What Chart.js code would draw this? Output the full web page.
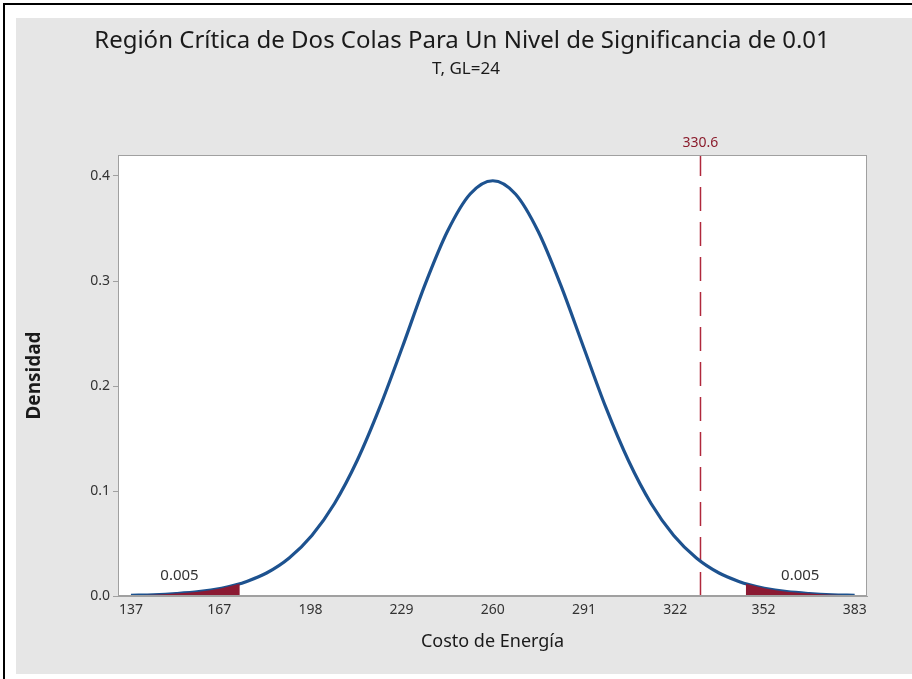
<!DOCTYPE html>
<html>
<head>
<meta charset="utf-8">
<script src="https://cdn.jsdelivr.net/npm/chart.js@4"></script>
<style>
  html, body { margin: 0; padding: 0; background: #fff; }
  #wrap { width: 912px; height: 679px; }
</style>
</head>
<body>
<div id="wrap"><canvas id="myChart" width="912" height="679"></canvas></div>
<script>
const ctx = document.getElementById("myChart");

// Costo de Energía (x) and density
const costo = [
  137.0, 144.7, 152.4, 160.1, 167.8, 174.0, 175.4, 183.1, 190.8, 198.5, 206.2,
  213.9, 221.6, 229.3, 236.9, 244.6, 252.3, 260.0, 267.7, 275.4, 283.1, 290.8,
  298.4, 306.1, 313.8, 321.5, 329.2, 336.9, 344.6, 346.0, 352.3, 359.9, 367.6,
  375.3, 383.0,
];
const densidad = [
  0.0007, 0.0012, 0.0023, 0.0041, 0.0074, 0.0116, 0.0129, 0.0219, 0.0362, 0.0576, 0.0881,
  0.129, 0.1798, 0.2374, 0.2961, 0.3474, 0.3829, 0.3955, 0.3829, 0.3474, 0.2961, 0.2374,
  0.1798, 0.129, 0.0881, 0.0576, 0.0362, 0.0219, 0.0129, 0.0116, 0.0074, 0.0041, 0.0023,
  0.0012, 0.0007,
];

// critical limits of the two tails, and their areas
const limites = [174.0, 346.0];
const areaCola = ["0.005", "0.005"];
const lineaRef = 330.6;

const xTicks = [137, 167, 198, 229, 260, 291, 322, 352, 383];
const yTicks = [0, 0.1, 0.2, 0.3, 0.4];

const curva = costo.map((x, i) => ({ x: x, y: densidad[i] }));
const colaIzq = curva.filter((p) => p.x <= limites[0]);
const colaDer = curva.filter((p) => p.x >= limites[1]);

const decor = {
  id: "decor",
  beforeDraw(chart) {
    const c = chart.ctx;
    const a = chart.chartArea;
    c.save();
    c.fillStyle = "#ffffff";
    c.fillRect(0, 0, chart.width, chart.height);
    c.fillStyle = "#e6e6e6";
    c.fillRect(16, 18, chart.width - 16, 656);
    c.strokeStyle = "#000";
    c.lineWidth = 2;
    c.beginPath();
    c.moveTo(4, chart.height);
    c.lineTo(4, 4);
    c.lineTo(chart.width, 4);
    c.stroke();
    c.fillStyle = "#ffffff";
    c.fillRect(a.left, a.top, a.right - a.left, a.bottom - a.top);

    c.fillStyle = "#1a1a1a";
    c.textAlign = "center";
    c.textBaseline = "middle";
    c.font = "24px 'Noto Sans'";
    c.fillText("Región Crítica de Dos Colas Para Un Nivel de Significancia de 0.01", 462, 41);
    c.font = "17px 'Noto Sans'";
    c.fillText("T, GL=24", 466, 69);
    c.restore();
  },
  afterDatasetsDraw(chart) {
    const c = chart.ctx;
    const a = chart.chartArea;
    const xs = chart.scales.x;
    const ys = chart.scales.y;
    c.save();
    c.strokeStyle = "#a0a0a0";
    c.lineWidth = 1;
    c.strokeRect(a.left + 0.5, a.top + 0.5, a.right - a.left - 1, a.bottom - a.top - 1);

    c.textAlign = "center";
    c.textBaseline = "middle";
    c.font = "15px 'Noto Sans'";
    c.fillStyle = "#333";
    c.fillText(areaCola[0], xs.getPixelForValue(153.5), ys.getPixelForValue(0.019));
    c.fillText(areaCola[1], xs.getPixelForValue(364.5), ys.getPixelForValue(0.019));

    c.font = "14px 'Noto Sans'";
    c.fillStyle = "#8b1c2c";
    c.fillText(String(lineaRef), xs.getPixelForValue(lineaRef), a.top - 12);
    c.restore();
  },
};

new Chart(ctx, {
  type: "line",
  data: {
    datasets: [
      {
        data: colaIzq,
        backgroundColor: "#8b1a33",
        borderWidth: 0,
        pointRadius: 0,
        fill: "origin",
        cubicInterpolationMode: "monotone",
      },
      {
        data: colaDer,
        backgroundColor: "#8b1a33",
        borderWidth: 0,
        pointRadius: 0,
        fill: "origin",
        cubicInterpolationMode: "monotone",
      },
      {
        data: curva,
        borderColor: "#1d528f",
        borderWidth: 3.2,
        pointRadius: 0,
        fill: false,
        cubicInterpolationMode: "monotone",
      },
      {
        data: [
          { x: lineaRef, y: 0 },
          { x: lineaRef, y: 0.42 },
        ],
        borderColor: "#b0283c",
        borderWidth: 1.5,
        borderDash: [24, 11],
        pointRadius: 0,
        fill: false,
      },
    ],
  },
  plugins: [decor],
  options: {
    responsive: false,
    animation: false,
    layout: {
      padding: { left: 0, top: 155, right: 45, bottom: 0 },
    },
    plugins: {
      legend: { display: false },
      tooltip: { enabled: false },
    },
    scales: {
      x: {
        type: "linear",
        min: 132.6,
        max: 387.2,
        afterFit(scale) {
          scale.height = 83;
        },
        afterBuildTicks(scale) {
          scale.ticks = xTicks.map((v) => ({ value: v }));
        },
        grid: { display: false, drawTicks: false },
        border: { display: true, color: "#a0a0a0", width: 1 },
        ticks: {
          padding: 6,
          color: "#333",
          font: { family: "'Noto Sans'", size: 14 },
          maxRotation: 0,
          autoSkip: false,
        },
        title: {
          display: true,
          text: "Costo de Energía",
          color: "#1a1a1a",
          font: { family: "'Noto Sans'", size: 18 },
          padding: { top: 0, bottom: 26 },
        },
      },
      y: {
        min: 0,
        max: 0.42,
        afterFit(scale) {
          scale.width = 118;
        },
        afterBuildTicks(scale) {
          scale.ticks = yTicks.map((v) => ({ value: v }));
        },
        grid: {
          drawOnChartArea: false,
          drawTicks: true,
          tickLength: 5,
          color: "#a0a0a0",
        },
        border: { display: true, color: "#a0a0a0", width: 1 },
        ticks: {
          padding: 3,
          color: "#333",
          font: { family: "'Noto Sans'", size: 14 },
          callback: (v) => v.toFixed(1),
        },
        title: {
          display: true,
          text: "Densidad",
          color: "#1a1a1a",
          font: { family: "'Noto Sans'", size: 19, weight: "bold" },
          padding: { top: 23, bottom: 0 },
        },
      },
    },
  },
});
</script>
</body>
</html>
